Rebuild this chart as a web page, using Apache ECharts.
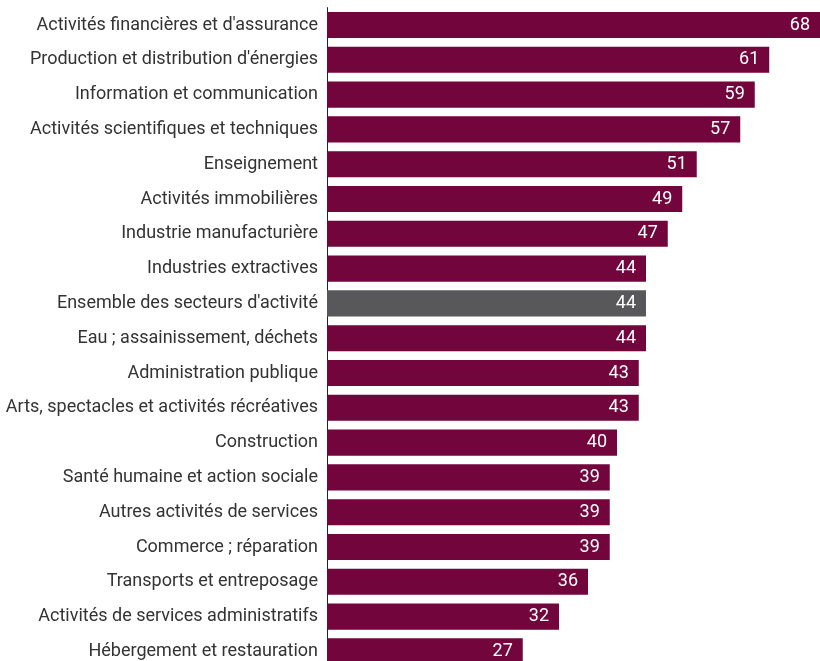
<!DOCTYPE html>
<html><head><meta charset="utf-8">
<script src="https://cdn.jsdelivr.net/npm/echarts@6/dist/echarts.min.js"></script>
<style>html,body{margin:0;padding:0;background:#fff;overflow:hidden}#c{width:820px;height:670px}</style>
</head><body><div id="c"></div>
<script>
const categories = [
  "Activités financières et d'assurance",
  "Production et distribution d'énergies",
  "Information et communication",
  "Activités scientifiques et techniques",
  "Enseignement",
  "Activités immobilières",
  "Industrie manufacturière",
  "Industries extractives",
  "Ensemble des secteurs d'activité",
  "Eau ; assainissement, déchets",
  "Administration publique",
  "Arts, spectacles et activités récréatives",
  "Construction",
  "Santé humaine et action sociale",
  "Autres activités de services",
  "Commerce ; réparation",
  "Transports et entreposage",
  "Activités de services administratifs",
  "Hébergement et restauration"
];
const values = [68, 61, 59, 57, 51, 49, 47, 44, 44, 44, 43, 43, 40, 39, 39, 39, 36, 32, 27];
const highlight = "Ensemble des secteurs d'activité";
const mainColor = '#72053c';
const highlightColor = '#58585a';

const chart = echarts.init(document.getElementById('c'), null, {renderer: 'canvas'});
chart.setOption({
  animation: false,
  grid: {left: 327, top: 7.6, width: 498, height: 661.2, containLabel: false},
  xAxis: {type: 'value', min: 0, max: 68, show: false},
  yAxis: {
    type: 'category', data: categories, inverse: true,
    axisLine: {show: true, lineStyle: {color: '#222', width: 1}},
    axisTick: {show: false},
    axisLabel: {color: '#333', fontSize: 18, fontFamily: 'Roboto', margin: 9}
  },
  series: [{
    type: 'bar',
    data: values.map((v, i) => ({value: v, itemStyle: {color: categories[i] === highlight ? highlightColor : mainColor}})),
    barCategoryGap: '25%',
    label: {show: true, position: 'insideRight', distance: 10, color: '#fff', fontSize: 18, fontFamily: 'Roboto'}
  }]
});
</script></body></html>
